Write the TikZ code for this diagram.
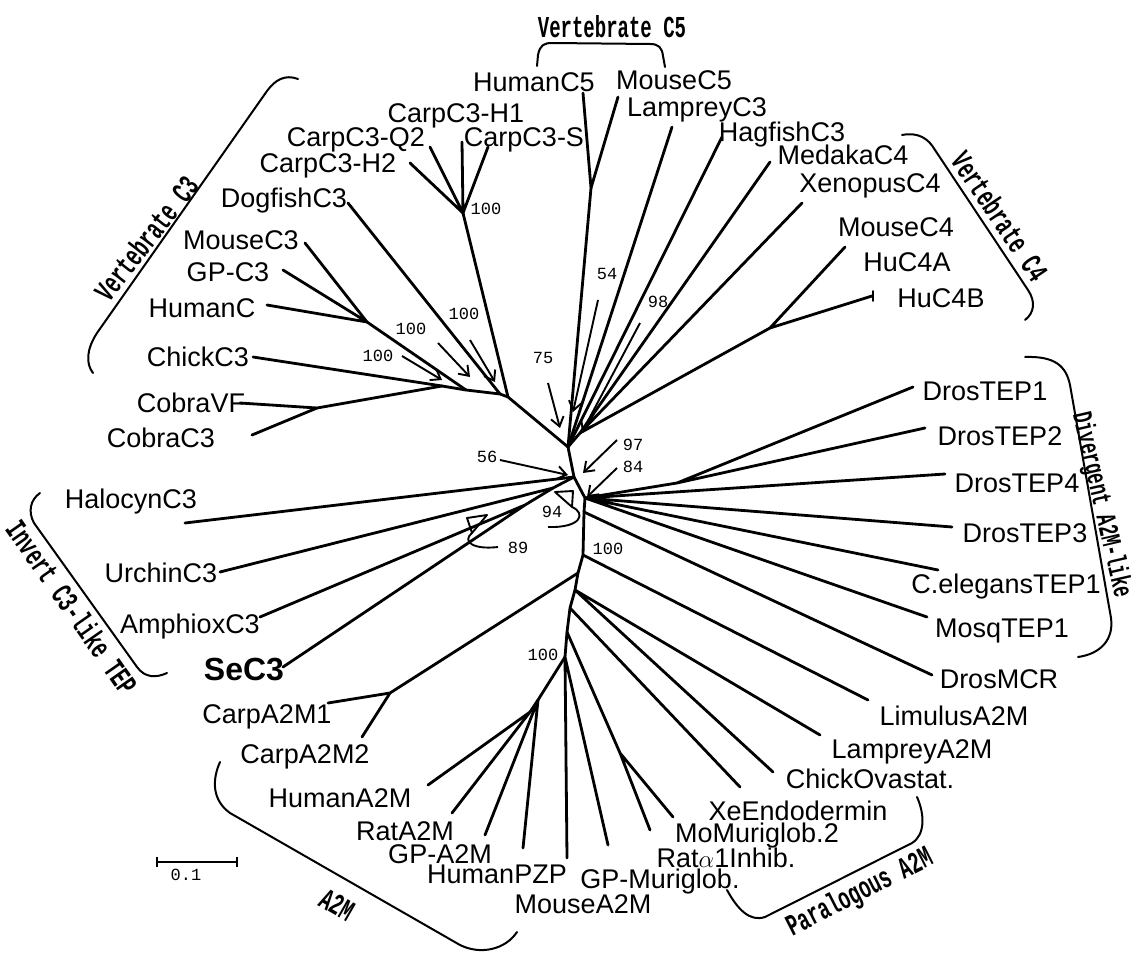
\documentclass[tikz,border=0pt]{standalone}
\usepackage{fontspec}
\usepackage{graphicx}
\setmainfont{Liberation Sans}
\newfontfamily\monofont{Liberation Mono}
\usetikzlibrary{arrows.meta}
\tikzset{
  br/.style={line width=2.8pt, line cap=round, line join=round},
  bootarr/.style={line width=1.9pt, -{Straight Barb[length=9pt,width=13pt,line width=1.9pt]}},
  lbl/.style={font=\fontsize{27}{30}\selectfont, inner sep=0pt, anchor=base},
  num/.style={font=\monofont\fontsize{17}{19}\selectfont, inner sep=0pt, anchor=base},
  clade/.style={font=\monofont\bfseries\fontsize{19}{20}\selectfont, inner sep=0pt},
  brk/.style={line width=2pt, line cap=round},
  tri/.style={line width=1.9pt, line join=round},
}
\begin{document}
\begin{tikzpicture}[x=1pt,y=-1pt]
\useasboundingbox (0,0) rectangle (1135,957);
% ---------- labels ----------
\node[lbl] (HumanC5) at (534,92) {HumanC5};
\node[lbl] (MouseC5) at (674,90) {MouseC5};
\node[lbl] (LampreyC3) at (697,117) {LampreyC3};
\node[lbl] (CarpC3H1) at (456,123) {CarpC3-H1};
\node[lbl] (CarpC3S) at (524,147) {CarpC3-S};
\node[lbl] (CarpC3Q2) at (356,147) {CarpC3-Q2};
\node[lbl] (CarpC3H2) at (328,173) {CarpC3-H2};
\node[lbl] (DogfishC3) at (284,208) {DogfishC3};
\node[lbl] (MouseC3) at (241,250) {MouseC3};
\node[lbl] (GPC3) at (228,282) {GP-C3};
\node[lbl] (HumanC) at (202,318) {HumanC};
\node[lbl] (ChickC3) at (198,367) {ChickC3};
\node[lbl] (CobraVF) at (191,413) {CobraVF};
\node[lbl] (CobraC3) at (161,447) {CobraC3};
\node[lbl] (HalocynC3) at (131,508) {HalocynC3};
\node[lbl] (UrchinC3) at (161,582) {UrchinC3};
\node[lbl] (AmphioxC3) at (190,633) {AmphioxC3};
\node[lbl,font=\bfseries\fontsize{32}{34}\selectfont] (SeC3) at (244,680) {SeC3};
\node[lbl] (CarpA2M1) at (267,723) {CarpA2M1};
\node[lbl] (CarpA2M2) at (305,763) {CarpA2M2};
\node[lbl] (HumanA2M) at (340,807) {HumanA2M};
\node[lbl] (RatA2M) at (405,840) {RatA2M};
\node[lbl] (GPA2M) at (440,863) {GP-A2M};
\node[lbl] (HumanPZP) at (497,883) {HumanPZP};
\node[lbl] (MouseA2M) at (583,913) {MouseA2M};
\node[lbl] (GPMuriglob) at (660,888) {GP-Muriglob.};
\node[lbl] (RatInhib) at (726,867) {Rat$\alpha$1Inhib.};
\node[lbl] (MoMuriglob) at (757,842) {MoMuriglob.2};
\node[lbl] (XeEndodermin) at (798,820) {XeEndodermin};
\node[lbl] (ChickOvastat) at (870,788) {ChickOvastat.};
\node[lbl] (LampreyA2M) at (912,758) {LampreyA2M};
\node[lbl] (LimulusA2M) at (954,725) {LimulusA2M};
\node[lbl] (DrosTEP1) at (985,400) {DrosTEP1};
\node[lbl] (DrosTEP2) at (1000,445) {DrosTEP2};
\node[lbl] (DrosTEP4) at (1017,492) {DrosTEP4};
\node[lbl] (DrosTEP3) at (1025,542) {DrosTEP3};
\node[lbl] (CelegansTEP1) at (1006,593) {C.elegansTEP1};
\node[lbl] (MosqTEP1) at (1002,637) {MosqTEP1};
\node[lbl] (DrosMCR) at (999,688) {DrosMCR};
\node[lbl] (HagfishC3) at (782,142) {HagfishC3};
\node[lbl] (MedakaC4) at (843,165) {MedakaC4};
\node[lbl] (XenopusC4) at (870,193) {XenopusC4};
\node[lbl] (MouseC4) at (896,237) {MouseC4};
\node[lbl] (HuC4A) at (907,272) {HuC4A};
\node[lbl] (HuC4B) at (941,308) {HuC4B};
% ---------- bootstrap numbers ----------
\node[num] (bCarp) at (486,215) {100};
\node[num] (bA) at (378,362) {100};
\node[num] (bB) at (411,335) {100};
\node[num] (bC) at (464,320) {100};
\node[num] (b75) at (543,363) {75};
\node[num] (b54) at (607,280) {54};
\node[num] (b98) at (658,308) {98};
\node[num] (b56) at (487,462) {56};
\node[num] (b97) at (633,450) {97};
\node[num] (b84) at (633,472) {84};
\node[num] (b94) at (552,517) {94};
\node[num] (b89) at (518,553) {89};
\node[num] (bT) at (608,554) {100};
\node[num] (bA2M) at (543,660) {100};
\node[num] (scaletxt) at (186,880) {0.1};
% ---------- internal nodes ----------
\coordinate (A) at (568,447);
\coordinate (B) at (574,477);
\coordinate (C) at (585,498);
\coordinate (N1) at (508,397);
\coordinate (Nd) at (500,394);
\coordinate (Nm) at (466,390);
\coordinate (Ncc) at (442,386);
\coordinate (Nco) at (317,408);
\coordinate (Nh) at (367,322);
\coordinate (Cn) at (463,213);
\coordinate (C5n) at (591,188);
\coordinate (K) at (580,433);
\coordinate (C4n) at (770,328);
\coordinate (HuC4n) at (872,296);
\coordinate (I1) at (553,488);
\coordinate (I2) at (525,505);
\coordinate (D12) at (677,483);
\coordinate (T1) at (584,512);
\coordinate (T2) at (583,555);
\coordinate (T3) at (578,573);
\coordinate (T4) at (575,590);
\coordinate (T5) at (570,608);
\coordinate (T6) at (567,632);
\coordinate (Na) at (565,657);
\coordinate (Ca) at (390,693);
\coordinate (Hn) at (538,700);
\coordinate (Hr) at (530,712);
\coordinate (Mr) at (620,753);
% ---------- leaf ends ----------
\coordinate (eHumanC5) at (583,93);
\coordinate (eMouseC5) at (618,97);
\coordinate (eLampreyC3) at (672,127);
\coordinate (eHagfish) at (722,137);
\coordinate (eMedaka) at (770,162);
\coordinate (eXenopus) at (802,203);
\coordinate (eMouseC4) at (845,247);
\coordinate (eHuC4A) at (873,291);
\coordinate (eHuC4B) at (873,301);
\coordinate (eH2) at (410,163);
\coordinate (eQ2) at (430,147);
\coordinate (eH1) at (462,142);
\coordinate (eS) at (488,147);
\coordinate (eDogfish) at (348,203);
\coordinate (eMouseC3) at (305,243);
\coordinate (eGPC3) at (283,270);
\coordinate (eHumanC) at (267,305);
\coordinate (eChick) at (253,357);
\coordinate (eCobraVF) at (240,403);
\coordinate (eCobraC3) at (252,435);
\coordinate (eHalocyn) at (185,523);
\coordinate (eUrchin) at (220,572);
\coordinate (eAmphiox) at (260,617);
\coordinate (eSeC3) at (283,667);
\coordinate (eCarpA2M1) at (328,703);
\coordinate (eCarpA2M2) at (362,737);
\coordinate (eHumanA2M) at (428,785);
\coordinate (eRatA2M) at (452,813);
\coordinate (eGPA2M) at (485,835);
\coordinate (eHumanPZP) at (523,848);
\coordinate (eMouseA2M) at (567,858);
\coordinate (eGPMuri) at (608,845);
\coordinate (eRatInhib) at (650,830);
\coordinate (eMoMuri) at (673,817);
\coordinate (eXe) at (740,787);
\coordinate (eChickOv) at (773,772);
\coordinate (eLampreyA2M) at (820,735);
\coordinate (eLimulus) at (868,700);
\coordinate (eDrosMCR) at (932,675);
\coordinate (eMosq) at (927,617);
\coordinate (eCeleg) at (938,570);
\coordinate (eTEP3) at (952,527);
\coordinate (eTEP4) at (945,474);
\coordinate (eTEP2) at (925,428);
\coordinate (eTEP1) at (913,387);
% ---------- branches ----------
\draw[br] (A) -- (B) -- (C) -- (T1) -- (T2) -- (T3) -- (T4) -- (T5) -- (T6) -- (Na);
% vertebrate C3
\draw[br] (A) -- (N1) -- (Nd) -- (Nm) -- (Ncc) -- (Nco);
\draw[br] (N1) -- (Cn);
\draw[br] (Cn) -- (eH2) (Cn) -- (eQ2) (Cn) -- (eH1) (Cn) -- (eS);
\draw[br] (Nd) -- (eDogfish);
\draw[br] (Nm) -- (Nh);
\draw[br] (Nh) -- (eMouseC3) (Nh) -- (eGPC3) (Nh) -- (eHumanC);
\draw[br] (Ncc) -- (eChick);
\draw[br] (Nco) -- (eCobraVF) (Nco) -- (eCobraC3);
% C5 / C4
\draw[br] (A) -- (C5n);
\draw[br] (C5n) -- (eHumanC5) (C5n) -- (eMouseC5);
\draw[br] (A) -- (eLampreyC3);
\draw[br] (A) -- (eHagfish);
\draw[br] (A) -- (K);
\draw[br] (K) -- (eMedaka) (K) -- (eXenopus) (K) -- (C4n);
\draw[br] (C4n) -- (eMouseC4) (C4n) -- (HuC4n);
\draw[br,line width=1.9pt] (eHuC4A) -- (eHuC4B);
% invertebrate C3
\draw[br] (B) -- (eHalocyn);
\draw[br] (B) -- (I1) -- (eUrchin);
\draw[br] (I1) -- (I2) (I2) -- (eAmphiox) (I2) -- (eSeC3);
% divergent A2M-like
\draw[br] (C) -- (D12) (D12) -- (eTEP1) (D12) -- (eTEP2);
\draw[br] (C) -- (eTEP4) (C) -- (eTEP3) (C) -- (eCeleg) (C) -- (eMosq);
\draw[br] (T1) -- (eDrosMCR);
\draw[br] (T2) -- (eLimulus);
% A2M
\draw[br] (T3) -- (Ca) (Ca) -- (eCarpA2M1) (Ca) -- (eCarpA2M2);
\draw[br] (T4) -- (eLampreyA2M) (T4) -- (eChickOv);
\draw[br] (T5) -- (eXe);
\draw[br] (T6) -- (Mr) (Mr) -- (eMoMuri) (Mr) -- (eRatInhib);
\draw[br] (Na) -- (Hn) (Hn) -- (Hr) (Hr) -- (eHumanA2M) (Hr) -- (eRatA2M);
\draw[br] (Hn) -- (eGPA2M) (Hn) -- (eHumanPZP);
\draw[br] (Na) -- (eMouseA2M) (Na) -- (eGPMuri);
% ---------- bootstrap arrows ----------
\coordinate (a1t) at (402,356); \coordinate (a1h) at (442,380);
\coordinate (a2t) at (438,343); \coordinate (a2h) at (470,377);
\coordinate (a3t) at (470,340); \coordinate (a3h) at (495,382);
\coordinate (a75t) at (548,383); \coordinate (a75h) at (560,428);
\coordinate (a54t) at (598,300); \coordinate (a54h) at (573,412);
\coordinate (a98t) at (640,323); \coordinate (a98h) at (582,432);
\coordinate (a56t) at (500,460); \coordinate (a56h) at (568,475);
\coordinate (a97t) at (617,440); \coordinate (a97h) at (583,473);
\coordinate (a84t) at (617,468); \coordinate (a84h) at (587,497);
\draw[bootarr] (a1t) -- (a1h);
\draw[bootarr] (a2t) -- (a2h);
\draw[bootarr] (a3t) -- (a3h);
\draw[bootarr] (a75t) -- (a75h);
\draw[bootarr] (a54t) -- (a54h);
\draw[bootarr] (a98t) -- (a98h);
\draw[bootarr] (a56t) -- (a56h);
\draw[bootarr] (a97t) -- (a97h);
\draw[bootarr] (a84t) -- (a84h);
% triangle hooks
\draw[tri] (555,492) -- (573,491) -- (572,507) -- cycle;
\draw[tri] (572,507) .. controls (586,513) and (582,528) .. (548,527);
\draw[tri] (467,518) -- (487,515) -- (472,533) -- cycle;
\draw[tri] (472,533) .. controls (462,541) and (472,550) .. (498,547);
% ---------- scale bar ----------
\coordinate (sL) at (157,862); \coordinate (sR) at (237,862);
\draw[line width=1.5pt] (sL) -- (sR);
\draw[line width=1.5pt] (157,857) -- (157,867) (237,857) -- (237,867);
% ---------- clade brackets ----------
\draw[brk] (537,66) -- (538,55) .. controls (540,45) and (544,43) .. (552,43) -- (650,44) .. controls (659,44) and (662,48) .. (663,56) -- (665,67);
\draw[brk] (298,79) .. controls (285,74) and (275,80) .. (267,91) -- (97,333) .. controls (86,350) and (86,364) .. (93,373);
\draw[brk] (902,135) .. controls (918,132) and (928,138) .. (935,150) -- (1028,290) .. controls (1036,302) and (1034,313) .. (1025,320);
\draw[brk] (1025,357) .. controls (1055,356) and (1066,366) .. (1070,385) -- (1111,618) .. controls (1114,640) and (1100,654) .. (1078,657);
\draw[brk] (40,493) .. controls (30,500) and (28,512) .. (34,523) -- (137,667) .. controls (145,678) and (156,678) .. (167,673);
\draw[brk] (220,762) .. controls (212,780) and (212,800) .. (230,813) -- (460,945) .. controls (480,955) and (505,950) .. (517,932);
\draw[brk] (917,797) .. controls (925,815) and (925,835) .. (912,843) -- (765,917) .. controls (750,922) and (738,910) .. (727,890);
% ---------- clade names ----------
\node[clade] (tC5) at (612,27) {\scalebox{1}[1.6]{Vertebrate C5}};
\node[clade,rotate=52] (tC3) at (146,238) {\scalebox{1}[1.6]{Vertebrate C3}};
\node[clade,rotate=-56] (tC4) at (1000,216) {\scalebox{1}[1.6]{Vertebrate C4}};
\node[clade,rotate=-77,font=\monofont\bfseries\fontsize{17.5}{19}\selectfont] (tDiv) at (1101,505) {\scalebox{1}[1.6]{Divergent A2M-like}};
\node[clade,rotate=-55] (tInv) at (72,607) {\scalebox{1}[1.6]{Invert C3-like TEP}};
\node[clade,rotate=-30] (tA2M) at (337,905) {\scalebox{1}[1.6]{A2M}};
\node[clade,rotate=27] (tPar) at (860,893) {\scalebox{1}[1.6]{Paralogous A2M}};
\end{tikzpicture}
\end{document}
